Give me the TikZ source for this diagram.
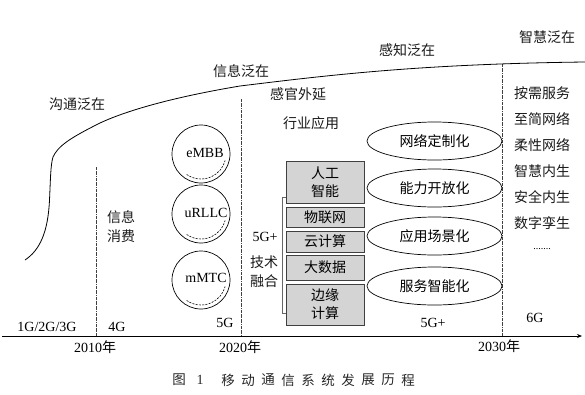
\documentclass[tikz,border=0pt]{standalone}
\usepackage{fontspec}
\setmainfont{Liberation Serif}
\newfontfamily\cjk{Noto Sans CJK SC}
\usetikzlibrary{arrows.meta,shapes.geometric}
\begin{document}
\begin{tikzpicture}[x=1pt,y=-1pt,
  zh/.style={font=\cjk\fontsize{14}{17}\selectfont, inner sep=0pt, text=black!90},
  lat/.style={font=\fontsize{14}{17}\selectfont, inner sep=0pt},
  vdash/.style={densely dashdotted, line width=0.5pt, black!75},
  gbox/.style={draw=black!75, fill=black!17, line width=0.8pt, minimum width=78pt, inner sep=0pt, align=center, font=\cjk\fontsize{14}{17}\selectfont},
  circ/.style={circle, draw, line width=0.7pt, minimum size=58pt, inner sep=0pt},
  ell/.style={ellipse, draw, line width=0.7pt, minimum width=135pt, minimum height=38pt, inner sep=0pt, font=\cjk\fontsize{14}{17}\selectfont},
  arcd/.style={line width=0.6pt, dash pattern=on 2pt off 1.3pt}]
\useasboundingbox (0,0) rectangle (585,394);

% axis
\coordinate (ax0) at (2,336);
\coordinate (ax1) at (582,336);
\draw[line width=0.7pt, -{Stealth[length=5pt,width=4pt]}] (ax0) -- (ax1);

% dashed verticals
\coordinate (v1t) at (96,167); \coordinate (v1b) at (96,336);
\coordinate (v2t) at (241,99); \coordinate (v2b) at (241,336);
\coordinate (v3t) at (502,64); \coordinate (v3b) at (502,336);
\draw[vdash] (v1t) -- (v1b);
\draw[vdash] (v2t) -- (v2b);
\draw[vdash] (v3t) -- (v3b);

% growth curve
\draw[line width=0.8pt] (25,260) .. controls (40,250) and (48,232) .. (49.5,200)
  .. controls (50.5,180) and (50.5,165) .. (53,157)
  .. controls (58,146) and (70,138) .. (100,123)
  .. controls (130,109) and (180,96) .. (240,86)
  .. controls (330,75) and (420,64) .. (585,62);

% era labels
\node[zh] (l1) at (77,104) {沟通泛在};
\node[zh] (l2) at (241,71) {信息泛在};
\node[zh] (l3) at (407,50) {感知泛在};
\node[zh] (l4) at (547,37) {智慧泛在};
\node[zh] (l5) at (298,94) {感官外延};
\node[zh] (l6) at (311,123) {行业应用};
\node[zh, align=center, font=\cjk\fontsize{14}{19}\selectfont] (l7) at (121,227) {信息\\消费};

% generation labels
\node[lat] (g1) at (47,327) {1G/2G/3G};
\node[lat] (g2) at (117,327) {4G};
\node[lat] (g3) at (225,323) {5G};
\node[lat] (g4) at (433,323) {5G+};
\node[lat] (g5) at (535,318) {6G};

% years
\node[lat] (y1) at (95,347) {2010{\cjk 年}};
\node[lat] (y2) at (240,347) {2020{\cjk 年}};
\node[lat] (y3) at (499,346) {2030{\cjk 年}};

% 5G circles
\node[circ] (c1) at (201,154) {};
\node[circ] (c2) at (201,214) {};
\node[circ] (c3) at (201,280) {};
\node[lat] (t1) at (205,153) {eMBB};
\node[lat] (t2) at (206,213) {uRLLC};
\node[lat] (t3) at (206,278) {mMTC};
\draw[arcd] (c1.center) ++(235:25pt) arc[start angle=235, end angle=345, radius=25pt];
\draw[arcd] (c2.center) ++(235:25pt) arc[start angle=235, end angle=345, radius=25pt];
\draw[arcd] (c3.center) ++(235:25pt) arc[start angle=235, end angle=345, radius=25pt];

% 5G+ tech fusion
\node[lat] (f1) at (265,237) {5G+};
\node[zh, align=center, font=\cjk\fontsize{14}{19}\selectfont] (f2) at (264,272) {技术\\融合};
\coordinate (bt) at (286,197);
\coordinate (bb) at (286,313);
\draw[line width=0.7pt, black!60] (bt) -- ++(-4,0) |- (bb);

\node[gbox, minimum height=42pt, font=\cjk\fontsize{14}{18}\selectfont] (b1) at (325,182) {人工\\智能};
\node[gbox, minimum height=20pt] (b2) at (325,217) {物联网};
\node[gbox, minimum height=21pt] (b3) at (325,241.5) {云计算};
\node[gbox, minimum height=25pt] (b4) at (325,267.5) {大数据};
\node[gbox, minimum height=41pt, font=\cjk\fontsize{14}{18}\selectfont] (b5) at (325,304.5) {边缘\\计算};

% ellipses
\node[ell] (e1) at (434.5,141) {网络定制化};
\node[ell] (e2) at (434.5,188) {能力开放化};
\node[ell] (e3) at (434.5,236) {应用场景化};
\node[ell] (e4) at (434.5,286) {服务智能化};

% 6G list
\node[zh] (r1) at (542,93) {按需服务};
\node[zh] (r2) at (542,119) {至简网络};
\node[zh] (r3) at (542,145) {柔性网络};
\node[zh] (r4) at (542,171) {智慧内生};
\node[zh] (r5) at (542,197) {安全内生};
\node[zh] (r6) at (542,223) {数字孪生};
\node[lat, font=\fontsize{10}{12}\selectfont] (r7) at (542,249) {.......};

% caption
\node[zh, font=\cjk\fontsize{13.5}{16}\selectfont, text=black!85] (cap0) at (179,380) {图};
\node[lat, font=\fontsize{14}{16}\selectfont, text=black!85] (cap1) at (200,380) {1};
\foreach \ch [count=\i from 0] in {移,动,通,信,系,统,发,展,历,程}
  \node[zh, font=\cjk\fontsize{13.5}{16}\selectfont, text=black!85] (cc\i) at (228+20*\i,380) {\ch};
\end{tikzpicture}
\end{document}
